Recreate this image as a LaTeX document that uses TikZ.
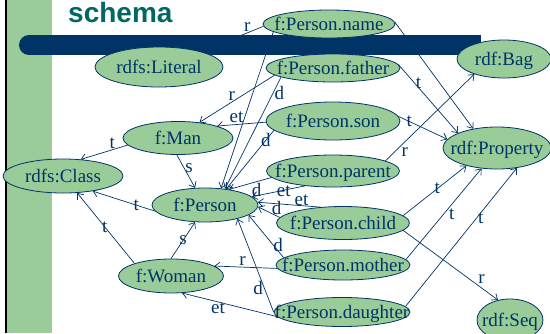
\documentclass[tikz,border=0pt]{standalone}
\usepackage{fontspec}
\setmainfont{Liberation Serif}
\newfontfamily\titlefont{Liberation Sans}
\usepackage{tikz}
\usepackage{xcolor}
\usetikzlibrary{shapes,arrows.meta,backgrounds}

\definecolor{navy}{RGB}{0,51,102}
\definecolor{leaf}{RGB}{153,204,153}
\definecolor{headteal}{RGB}{0,104,100}

\pgfdeclarelayer{band}
\pgfdeclarelayer{links}
\pgfdeclarelayer{bar}
\pgfsetlayers{band,links,bar,main}

% text of a fixed-size ellipse: takes no room of its own
\newcommand{\nodetxt}[1]{\raisebox{-0.33em}[0pt][0pt]{\makebox[0pt]{#1}}}

\tikzset{
  concept/.style={ellipse, draw=navy, fill=leaf, text=navy, line width=0.8pt,
    inner sep=0pt, font=\fontsize{19}{22}\selectfont},
  link/.style={draw=navy, line width=0.7pt, -{Straight Barb[length=5pt,width=8pt]}},
  tag/.style={text=navy, inner sep=1pt, font=\fontsize{19}{22}\selectfont}
}

\begin{document}
\begin{tikzpicture}[x=1pt, y=-1pt]
        \useasboundingbox (0,0) rectangle (550,333);

        % slide frame
        \begin{pgfonlayer}{band}
          \fill[leaf] (7,0) rectangle (52,333);
          \fill[black] (4.5,0) rectangle (7,333);
        \end{pgfonlayer}
        \begin{pgfonlayer}{bar}
          \fill[navy] (29,35) rectangle (481,55);
          \fill[navy] (29,45) circle[radius=10];
        \end{pgfonlayer}
        \node[font=\titlefont\bfseries\fontsize{28}{30}\selectfont, text=headteal,
          anchor=base west, inner sep=0pt] (title) at (68,22) {schema};

        % properties
        \node[concept, minimum width=132pt, minimum height=28pt] (name) at (329,24) {\nodetxt{f:Person.name}};
        \node[concept, minimum width=134pt, minimum height=28pt] (father) at (333,68) {\nodetxt{f:Person.father}};
        \node[concept, minimum width=134pt, minimum height=38pt] (son) at (333,121) {\nodetxt{f:Person.son}};
        \node[concept, minimum width=133pt, minimum height=32pt] (parent) at (333,171) {\nodetxt{f:Person.parent}};
        \node[concept, minimum width=133pt, minimum height=33pt] (child) at (343,223) {\nodetxt{f:Person.child}};
        \node[concept, minimum width=134pt, minimum height=30pt] (mother) at (343,265) {\nodetxt{f:Person.mother}};
        \node[concept, minimum width=136pt, minimum height=29pt] (daughter) at (342,312) {\nodetxt{f:Person.daughter}};

        % classes
        \node[concept, minimum width=128pt, minimum height=40pt] (literal) at (159,67) {\nodetxt{rdfs:Literal}};
        \node[concept, minimum width=110pt, minimum height=33pt] (man) at (178,138) {\nodetxt{f:Man}};
        \node[concept, minimum width=120pt, minimum height=34pt] (class) at (63,176) {\nodetxt{rdfs:Class}};
        \node[concept, minimum width=106pt, minimum height=34pt] (person) at (205,205) {\nodetxt{f:Person}};
        \node[concept, minimum width=105pt, minimum height=34pt] (woman) at (171,276) {\nodetxt{f:Woman}};

        % rdf side
        \node[concept, minimum width=94pt, minimum height=38pt] (bag) at (504,59) {\nodetxt{rdf:Bag}};
        \node[concept, minimum width=108pt, minimum height=42pt] (property) at (497,148) {\nodetxt{rdf:Property}};
        \node[concept, minimum width=66pt, minimum height=42pt] (seq) at (510,320) {\nodetxt{rdf:Seq}};

        \begin{pgfonlayer}{links}
        % f:Person.name
        \draw[link] (name.182) -- node[tag, pos=0.26, above] {r} (literal.20);
        \draw[link] (name.188) -- (person.46);
        \draw[link] (name.2) -- (property.141);
        % f:Person.father
        \draw[link] (father.187) -- node[tag, pos=0.57, above] {r} (man.36);
        \draw[link] (father.190) -- node[tag, pos=0.14, right] {d} (person.39);
        \draw[link] (father.3) -- node[tag, pos=0.27, right] {t} (property.159);
        % f:Person.son
        \draw[link] (son.181) -- node[tag, pos=0.6, above] {et} (man.17);
        \draw[link] (son.189) -- node[tag, pos=0.17] {d} (person.37);
        \draw[link] (son.4) -- node[tag, pos=0.22] {t} (property.170);
        % f:Person.parent
        \draw[link] (parent.11) -- node[tag, pos=0.1, right=6pt] {r} (bag.207);
        \draw[link] (parent.186) -- node[tag, pos=0.35, below] {d} (person.33);
        \draw[link] (parent.208) -- node[tag, pos=0.4, below=-6pt] {et} (person.10);
        % f:Person.child
        \draw[link] (child.145) -- node[tag, pos=0.3, above=-1pt] {et} (person.3);
        \draw[link] (child.175) -- node[tag, pos=0.15, above] {d} (person.358);
        \draw[link] (child.7) -- node[tag, pos=0.54] {t} (property.210);
        \draw[link] (child.353) -- node[tag, pos=0.78, above right] {r} (seq.121);
        % f:Person.mother
        \draw[link] (mother.173) -- node[tag, pos=0.3, right=-1pt] {d} (person.347);
        \draw[link] (mother.183) -- node[tag, pos=0.55, above] {r} (woman.13);
        \draw[link] (mother.5) -- node[tag, pos=0.5, right=4pt] {t} (property.233);
        % f:Person.daughter
        \draw[link] (daughter.180) -- node[tag, pos=0.26, left] {d} (person.337);
        \draw[link] (daughter.184) -- node[tag, pos=0.62, below=-1pt] {et} (woman.303);
        \draw[link] (daughter.5) -- node[tag, pos=0.64, right] {t} (property.315);
        % class hierarchy
        \draw[link] (man.188) -- node[tag, pos=0.33, above] {t} (class.43);
        \draw[link] (man.266) -- node[tag, pos=0.4, right] {s} (person.120);
        \draw[link] (person.187) -- node[tag, pos=0.3] {t} (class.333);
        \draw[link] (woman.161) -- node[tag, pos=0.52] {t} (class.310);
        \draw[link] (woman.90) -- node[tag, pos=0.5] {s} (person.240);
        \end{pgfonlayer}
    \end{tikzpicture}
\end{document}
